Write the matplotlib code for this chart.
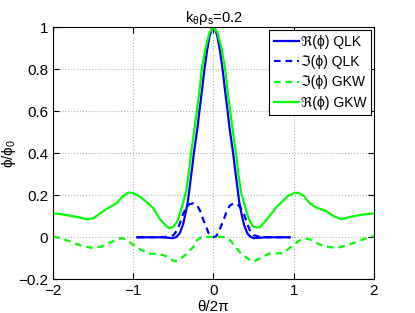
import matplotlib
matplotlib.use('Agg')
import matplotlib.pyplot as plt

plt.rcParams['font.family'] = ['Liberation Sans', 'DejaVu Sans']
plt.rcParams['mathtext.default'] = 'regular'
plt.rcParams['font.size'] = 9

# Re(phi) QLK
qlk_x = [-0.95, -0.8, -0.65, -0.55, -0.50, -0.46, -0.42, -0.38, -0.35, -0.32, -0.29, -0.26, -0.245,
         -0.23, -0.20, -0.176, -0.15, -0.113, -0.08, -0.05, -0.02, 0.0,
         0.02, 0.05, 0.08, 0.113, 0.15, 0.176, 0.20, 0.23, 0.245, 0.26, 0.29, 0.32, 0.35, 0.38,
         0.42, 0.46, 0.50, 0.55, 0.65, 0.8, 0.95]
qlk_re = [0.0, 0.0, 0.0, -0.003, -0.004, 0.002, 0.02, 0.06, 0.11, 0.17, 0.26, 0.35, 0.40,
          0.44, 0.52, 0.60, 0.68, 0.80, 0.89, 0.955, 0.993, 1.0,
          0.993, 0.955, 0.89, 0.80, 0.68, 0.60, 0.52, 0.44, 0.40, 0.35, 0.26, 0.17, 0.11, 0.06,
          0.02, 0.002, -0.004, -0.003, 0.0, 0.0, 0.0]

# Im(phi) QLK
qlk_im_x = [-0.95, -0.7, -0.58, -0.5, -0.45, -0.42, -0.38, -0.34, -0.30, -0.25, -0.20, -0.16, -0.126,
            -0.09, -0.064, -0.03, 0.0,
            0.03, 0.064, 0.09, 0.126, 0.16, 0.20, 0.25, 0.30, 0.34, 0.38, 0.42, 0.45, 0.5, 0.58, 0.7, 0.95]
qlk_im = [0.0, 0.0, 0.002, 0.01, 0.035, 0.066, 0.11, 0.14, 0.157, 0.162, 0.15, 0.12, 0.082,
          0.05, 0.022, 0.005, 0.0,
          0.005, 0.022, 0.05, 0.082, 0.12, 0.15, 0.162, 0.157, 0.14, 0.11, 0.066, 0.035, 0.01, 0.002, 0.0, 0.0]

# Im(phi) GKW
gkw_im_x = [-2.0, -1.9, -1.79, -1.65, -1.52, -1.4, -1.29, -1.2, -1.14, -1.07, -1.0, -0.9, -0.81, -0.71,
            -0.62, -0.55, -0.48, -0.42, -0.33, -0.25, -0.21, -0.15, -0.1, 0.0,
            0.1, 0.15, 0.21, 0.27, 0.35, 0.46, 0.5, 0.58, 0.70, 0.79, 0.87, 1.0, 1.07, 1.14, 1.22,
            1.3, 1.4, 1.535, 1.65, 1.8, 1.9, 2.0]
gkw_im = [0.003, -0.005, -0.02, -0.04, -0.05, -0.045, -0.025, -0.01, -0.003, -0.015, -0.037, -0.06, -0.077, -0.08,
          -0.085, -0.1, -0.115, -0.105, -0.077, -0.045, -0.015, 0.0, 0.002, 0.002,
          0.002, 0.0, -0.015, -0.045, -0.08, -0.11, -0.116, -0.1, -0.077, -0.077, -0.075, -0.035, -0.015, -0.005, -0.012,
          -0.03, -0.045, -0.05, -0.04, -0.02, -0.005, 0.006]

# Re(phi) GKW
gkw_x = [-2.0, -1.9, -1.79, -1.7, -1.58, -1.5, -1.42, -1.33, -1.21, -1.13, -1.06, -1.0, -0.92, -0.84,
         -0.75, -0.67, -0.63, -0.58, -0.54, -0.50, -0.46, -0.42, -0.375, -0.34, -0.31, -0.28, -0.25,
         -0.208, -0.18, -0.146, -0.1, -0.05, 0.0,
         0.05, 0.1, 0.146, 0.18, 0.208, 0.25, 0.28, 0.31, 0.34, 0.375, 0.42, 0.46, 0.50, 0.54, 0.58,
         0.63, 0.67, 0.79, 0.92, 1.0, 1.06, 1.13, 1.20, 1.29, 1.39, 1.5, 1.60, 1.7, 1.78, 1.9, 2.0]
gkw_re = [0.114, 0.110, 0.103, 0.097, 0.086, 0.09, 0.112, 0.135, 0.162, 0.195, 0.213, 0.210, 0.194, 0.17,
          0.138, 0.088, 0.07, 0.05, 0.043, 0.05, 0.07, 0.11, 0.17, 0.22, 0.30, 0.40, 0.48,
          0.60, 0.68, 0.80, 0.90, 0.975, 1.0,
          0.975, 0.90, 0.80, 0.68, 0.60, 0.48, 0.40, 0.30, 0.22, 0.17, 0.11, 0.07, 0.05, 0.046, 0.05,
          0.07, 0.088, 0.146, 0.194, 0.210, 0.212, 0.195, 0.161, 0.14, 0.127, 0.10, 0.086, 0.097, 0.103, 0.110, 0.114]

fig = plt.figure(figsize=(4.15, 3.13), dpi=100)
ax = fig.add_axes([0.1277, 0.1077, 0.7735, 0.8051])

ax.plot(qlk_x, qlk_re, '-', color=(0, 0, 1), lw=1.6, label='ℜ(ϕ) QLK')
ax.plot(qlk_im_x, qlk_im, '--', color=(0, 0, 1), lw=1.6, dashes=(3, 2.2), label='ℑ(ϕ) QLK')
ax.plot(gkw_im_x, gkw_im, '--', color=(0, 1, 0), lw=1.6, dashes=(3, 2.2), label='ℑ(ϕ) GKW')
ax.plot(gkw_x, gkw_re, '-', color=(0, 1, 0), lw=1.6, label='ℜ(ϕ) GKW')

ax.set_xlim(-2, 2)
ax.set_ylim(-0.2, 1)
ax.set_xticks([-2, -1, 0, 1, 2])
ax.set_yticks([-0.2, 0, 0.2, 0.4, 0.6, 0.8, 1])
ax.set_yticklabels(['\u22120.2', '0', '0.2', '0.4', '0.6', '0.8', '1'])
ax.set_xticklabels(['\u22122', '\u22121', '0', '1', '2'])
ax.tick_params(direction='in', length=4, labelsize=11, top=True, right=True)
ax.grid(True, linestyle=':', color='#b0b0b0', lw=0.8)
for s in ax.spines.values():
    s.set_linewidth(0.8)

ax.set_title(r'$k_\theta\rho_s$=0.2', fontsize=10.5, pad=4)
ax.set_xlabel('θ/2π', fontsize=11, labelpad=1)
ax.set_ylabel(r'$\phi/\phi_0$', fontsize=11, labelpad=0)

leg = ax.legend(loc='upper right', bbox_to_anchor=(0.991, 0.989), borderaxespad=0,
                fancybox=False, framealpha=1, edgecolor='black', fontsize=10,
                handlelength=1.8, handletextpad=0.1, labelspacing=0.45, borderpad=0.35)
leg.get_frame().set_linewidth(0.8)

fig.savefig('out.png', dpi=100)
